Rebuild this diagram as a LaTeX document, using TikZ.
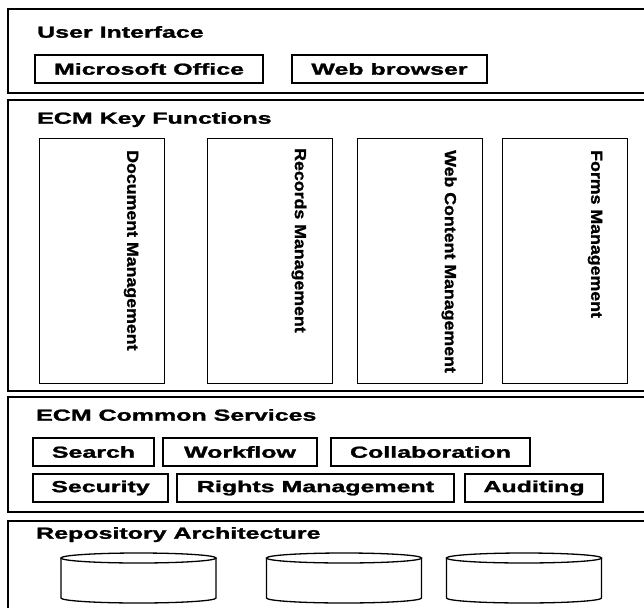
\documentclass[tikz,border=0pt]{standalone}
\usepackage{fontspec}
\setmainfont{Liberation Sans}[BoldFeatures={FakeBold=1.3}]
\usepackage{graphicx}
% wide bold labels and the slightly stretched column captions
\newcommand{\wideText}[1]{\scalebox{1.56}[1]{#1}}
\newcommand{\colText}[1]{\scalebox{1.11}[1]{#1}}
\begin{document}
\begin{tikzpicture}[x=1pt,y=-1pt,
  font=\fontsize{16}{19}\selectfont\bfseries,
  panel/.style={draw, line width=1.6pt, inner sep=0pt, anchor=north west, minimum width=660pt},
  title/.style={inner sep=0pt, anchor=base west},
  item/.style={draw, line width=1.6pt, inner sep=0pt, minimum height=28pt},
  column/.style={draw, line width=1.3pt, inner sep=0pt, minimum width=125pt, minimum height=245pt, anchor=north west},
  coltext/.style={inner sep=0pt, anchor=west, rotate=-90},
  drum/.style={draw, line width=1.3pt}
]
\useasboundingbox (0,0) rectangle (644,607);
\clip (0,0) rectangle (644,607);

% layers
\node[panel, minimum height=84pt]  (uipanel)   at (7,8)   {};
\node[panel, minimum height=291pt] (keypanel)  at (7,99)  {};
\node[panel, minimum height=115pt] (svcpanel)  at (7,396) {};
\node[panel, minimum height=100pt] (repopanel) at (7,520) {};

% layer titles
\node[title] (uititle)   at (37,37.7)  {\wideText{User Interface}};
\node[title] (keytitle)  at (37,123.7) {\wideText{ECM Key Functions}};
\node[title] (svctitle)  at (36,420.7) {\wideText{ECM Common Services}};
\node[title] (repotitle) at (36,538.7) {\wideText{Repository Architecture}};

% user interface clients
\node[item, minimum width=228pt] (msoffice) at (149,69)   {\wideText{Microsoft Office}};
\node[item, minimum width=195pt] (browser)  at (389.5,69) {\wideText{Web browser}};

% key function columns
\node[column] (doccol)   at (39,138)  {};
\node[column] (reccol)   at (207,138) {};
\node[column] (webcol)   at (357,138) {};
\node[column] (formscol) at (502,138) {};
\node[coltext] (doctext)   at (131,150) {\colText{Document Management}};
\node[coltext] (rectext)   at (299,148) {\colText{Records Management}};
\node[coltext] (webtext)   at (449,150) {\colText{Web Content Management}};
\node[coltext] (formstext) at (595,150) {\colText{Forms Management}};

% common services
\node[item, minimum width=121pt] (search)  at (93.5,452)  {\wideText{Search}};
\node[item, minimum width=154pt] (workflow) at (240,452)  {\wideText{Workflow}};
\node[item, minimum width=199pt] (collab)  at (430.5,452) {\wideText{Collaboration}};
\node[item, minimum width=135pt] (security) at (100.5,488) {\wideText{Security}};
\node[item, minimum width=277pt] (rights)  at (315.5,488) {\wideText{Rights Management}};
\node[item, minimum width=138pt] (audit)   at (534,488)   {\wideText{Auditing}};

% repositories
\foreach \cx in {138.5, 344, 524} {
  \draw[drum] (\cx,558) ellipse [x radius=77.5, y radius=5];
  \draw[drum] (\cx-77.5,558) -- (\cx-77.5,598)
    arc[start angle=180, end angle=0, x radius=77.5, y radius=5]
    -- (\cx+77.5,558);
}
\end{tikzpicture}
\end{document}
